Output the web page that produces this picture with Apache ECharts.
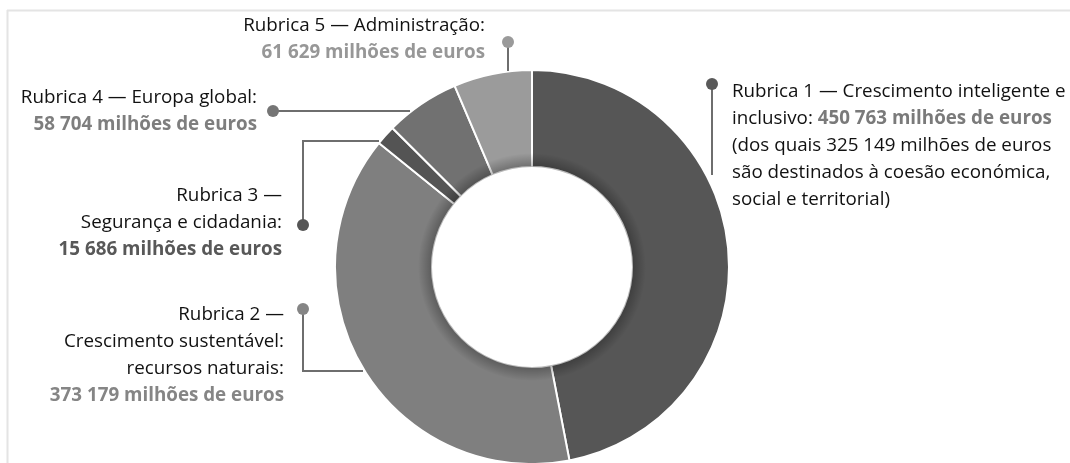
<!DOCTYPE html>
<html>
<head>
<meta charset="utf-8">
<script src="https://cdn.jsdelivr.net/npm/echarts@6/dist/echarts.min.js"></script>
<style>
  html, body { margin: 0; padding: 0; background: #fff; }
  #chart { width: 1070px; height: 463px; }
</style>
</head>
<body>
<div id="chart"></div>
<script>
// Orçamento da UE por rubrica (milhões de euros)
const rubricas = ['Rubrica 1', 'Rubrica 2', 'Rubrica 3', 'Rubrica 4', 'Rubrica 5'];
const titulos = [
  'Crescimento inteligente e inclusivo',
  'Crescimento sustentável: recursos naturais',
  'Segurança e cidadania',
  'Europa global',
  'Administração'
];
const valores = [450763, 373179, 15686, 58704, 61629];
const coesao = 325149;
const cores = ['#565656', '#7f7f7f', '#545454', '#717171', '#9b9b9b'];
const coresValor = ['#7a7a7a', '#858585', '#585858', '#7e7e7e', '#979797'];
const unidade = 'milhões de euros';

const FONT = 'Open Sans';
const FS = 18.8;
const fmt = v => String(v).replace(/\B(?=(\d{3})+(?!\d))/g, ' ');

const CX = 532, CY = 267, R_IN = 100, R_OUT = 197;

const chart = echarts.init(document.getElementById('chart'), null, { renderer: 'canvas' });

function rich(i) {
  return {
    n: { fontFamily: FONT, fontSize: FS, fill: '#111111', lineHeight: 27 },
    b: { fontFamily: FONT, fontSize: FS, fontWeight: 'bold', fill: coresValor[i], lineHeight: 27 }
  };
}
const val = i => '{b|' + fmt(valores[i]) + ' ' + unidade + '}';
const dash = ' — ';

// label blocks: anchor, alignment, rich text
const blocos = [
  { i: 0, x: 732, y: 78, align: 'left',
    text: '{n|' + rubricas[0] + dash + 'Crescimento inteligente e}\n{n|inclusivo: }' + val(0) +
          '\n{n|(dos quais ' + fmt(coesao) + ' ' + unidade + '}\n{n|são destinados à coesão económica,}\n{n|social e territorial)}' },
  { i: 1, x: 284, y: 301, align: 'right',
    text: '{n|' + rubricas[1] + ' —}\n{n|Crescimento sustentável:}\n{n|recursos naturais:}\n' + val(1) },
  { i: 2, x: 282, y: 182, align: 'right',
    text: '{n|' + rubricas[2] + ' —}\n{n|' + titulos[2] + ':}\n' + val(2) },
  { i: 3, x: 257, y: 84, align: 'right',
    text: '{n|' + rubricas[3] + dash + titulos[3] + ':}\n' + val(3) },
  { i: 4, x: 485, y: 12, align: 'right',
    text: '{n|' + rubricas[4] + dash + titulos[4] + ':}\n' + val(4) }
];

// leader lines (dot end first) and dot colours
const guias = [
  { pts: [[712, 84], [712, 175]], dot: '#595959' },
  { pts: [[303, 309], [303, 371], [363, 371]], dot: '#858585' },
  { pts: [[303, 225], [303, 141], [379, 141]], dot: '#555555' },
  { pts: [[273, 111], [410, 111]], dot: '#757575' },
  { pts: [[508, 42], [508, 71]], dot: '#9a9a9a' }
];

const graphics = [
  { type: 'line', shape: { x1: 7, y1: 10.5, x2: 1070, y2: 10.5 }, style: { stroke: '#e4e4e4', lineWidth: 2 }, silent: true },
  { type: 'line', shape: { x1: 7.5, y1: 10, x2: 7.5, y2: 463 }, style: { stroke: '#e4e4e4', lineWidth: 2 }, silent: true }
];
guias.forEach(g => {
  graphics.push({ type: 'polyline', shape: { points: g.pts }, style: { stroke: '#6e6e6e', lineWidth: 2, fill: null }, z: 10, silent: true });
  graphics.push({ type: 'circle', shape: { cx: g.pts[0][0], cy: g.pts[0][1], r: 6 }, style: { fill: g.dot }, z: 11, silent: true });
});
blocos.forEach(b => {
  graphics.push({
    type: 'text', x: b.x, y: b.y, z: 12, silent: true,
    style: { text: b.text, rich: rich(b.i), align: b.align, verticalAlign: 'top', fontFamily: FONT, fontSize: FS }
  });
});

chart.setOption({
  animation: false,
  backgroundColor: '#ffffff',
  graphic: graphics,
  series: [
    {
      type: 'pie',
      center: [CX, CY],
      radius: [R_IN, R_OUT],
      startAngle: 90,
      clockwise: true,
      silent: true,
      label: { show: false },
      labelLine: { show: false },
      itemStyle: { borderColor: '#ffffff', borderWidth: 2 },
      emphasis: { disabled: true },
      data: valores.map((v, i) => ({ name: rubricas[i], value: v, itemStyle: { color: cores[i] } }))
    },
    {
      // soft shading along the inner edge of the ring
      type: 'pie',
      center: [CX, CY],
      radius: [R_IN, R_IN + 14],
      silent: true,
      z: 3,
      label: { show: false },
      labelLine: { show: false },
      emphasis: { disabled: true },
      data: [{
        value: 1,
        itemStyle: {
          color: {
            type: 'radial', x: 0.5, y: 0.5, r: 0.5,
            colorStops: [
              { offset: 0, color: 'rgba(0,0,0,0)' },
              { offset: R_IN / (R_IN + 14), color: 'rgba(0,0,0,0.28)' },
              { offset: 1, color: 'rgba(0,0,0,0)' }
            ]
          }
        }
      }]
    }
  ]
});
</script>
</body>
</html>
